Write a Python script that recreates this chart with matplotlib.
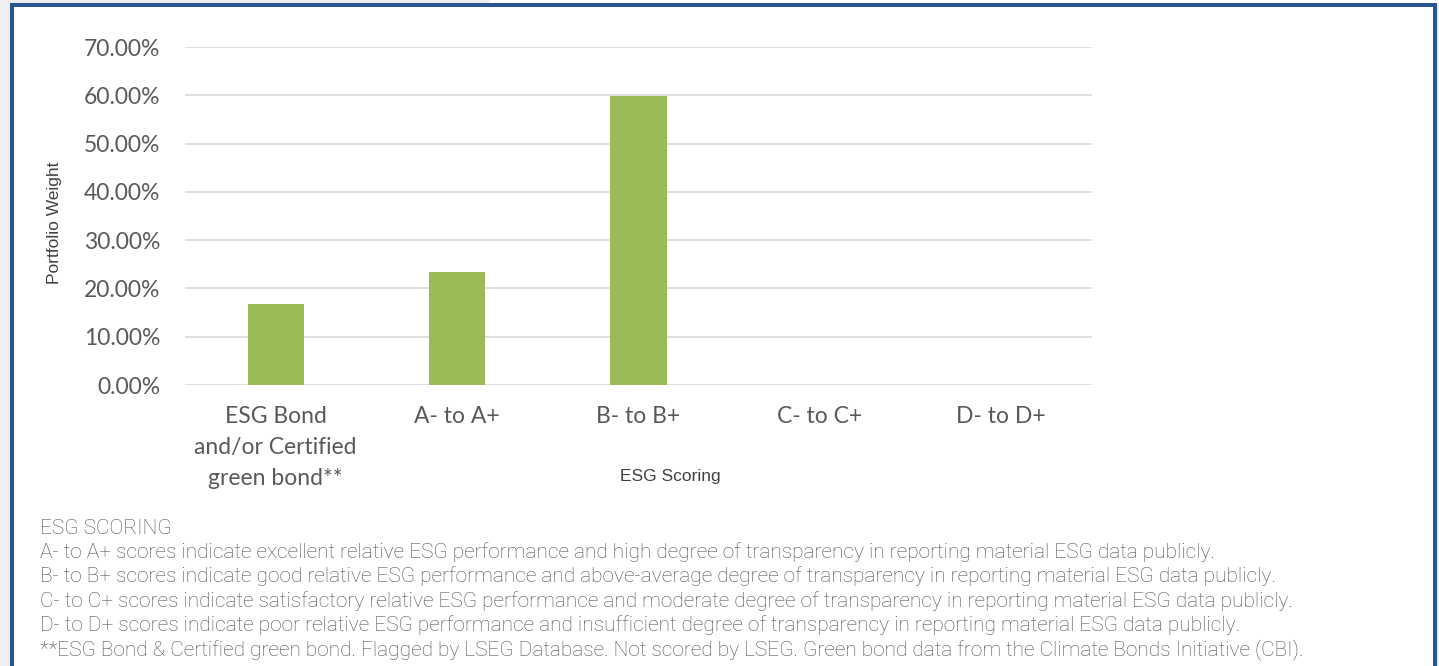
import matplotlib.pyplot as plt
from matplotlib.patches import Rectangle
import numpy as np

# Chart data
categories = ['ESG Bond\nand/or Certified\ngreen bond**', 'A- to A+', 'B- to B+', 'C- to C+', 'D- to D+']
weights = [0.167, 0.234, 0.599, 0.0, 0.0]
y_ticks = [0.0, 0.1, 0.2, 0.3, 0.4, 0.5, 0.6, 0.7]

footer_lines = [
    'ESG SCORING',
    'A- to A+ scores indicate excellent relative ESG performance and high degree of transparency in reporting material ESG data publicly.',
    'B- to B+ scores indicate good relative ESG performance and above-average degree of transparency in reporting material ESG data publicly.',
    'C- to C+ scores indicate satisfactory relative ESG performance and moderate degree of transparency in reporting material ESG data publicly.',
    'D- to D+ scores indicate poor relative ESG performance and insufficient degree of transparency in reporting material ESG data publicly.',
    '**ESG Bond & Certified green bond. Flagged by LSEG Database. Not scored by LSEG. Green bond data from the Climate Bonds Initiative (CBI).',
]

W, H = 1439, 666
fig = plt.figure(figsize=(W / 100, H / 100), dpi=100, facecolor='#efefef')

# white panel with blue frame
fig.patches.append(Rectangle((490 / W, 1 - 5 / H), 1, 1, transform=fig.transFigure,
                             facecolor='white', edgecolor='none', zorder=-2))
fig.patches.append(Rectangle((12 / W, -0.05), 1423 / W, 1.05 - 5 / H, transform=fig.transFigure,
                             facecolor='white', edgecolor='#2b5592', linewidth=2.9, zorder=-1))

ax = fig.add_axes([185 / W, 1 - 385 / H, 907 / W, 338 / H])
ax.set_zorder(2)
ax.set_facecolor('none')
x = np.arange(len(categories))
ax.bar(x, weights, width=0.31, color='#9bbb59', zorder=3)

ax.set_xlim(-0.5, len(categories) - 0.5)
ax.set_ylim(0, 0.7)
ax.set_yticks(y_ticks)
ax.set_yticklabels([f'{v * 100:.2f}%' for v in y_ticks], family='Lato', fontsize=16.5, color='#595959')
ax.set_xticks(x)
ax.set_xticklabels(categories, family='Lato', fontsize=16.5, color='#595959', linespacing=1.6, va='top')
ax.tick_params(axis='both', length=0)
ax.tick_params(axis='y', pad=18)
ax.tick_params(axis='x', pad=15)
ax.grid(axis='y', color='#d9d9d9', linewidth=1.2, zorder=0)
for s in ax.spines.values():
    s.set_visible(False)

fig.text(55 / W, 1 - 223 / H, 'Portfolio Weight', rotation=90, ha='center', va='center',
         family='Liberation Sans', fontsize=12.5, color='#404040', zorder=3)
fig.text(670 / W, 1 - 477 / H, 'ESG Scoring', ha='center', va='center',
         family='Liberation Sans', fontsize=12.5, color='#404040', zorder=3)

# footnote block
for i, line in enumerate(footer_lines):
    fig.text(40 / W, 1 - (528 + i * 24.3) / H, line, ha='left', va='center',
             family='Roboto', fontweight='light', fontsize=15.0, color='#4d4d4d', zorder=3)

plt.savefig('out.png', dpi=100, facecolor=fig.get_facecolor())
